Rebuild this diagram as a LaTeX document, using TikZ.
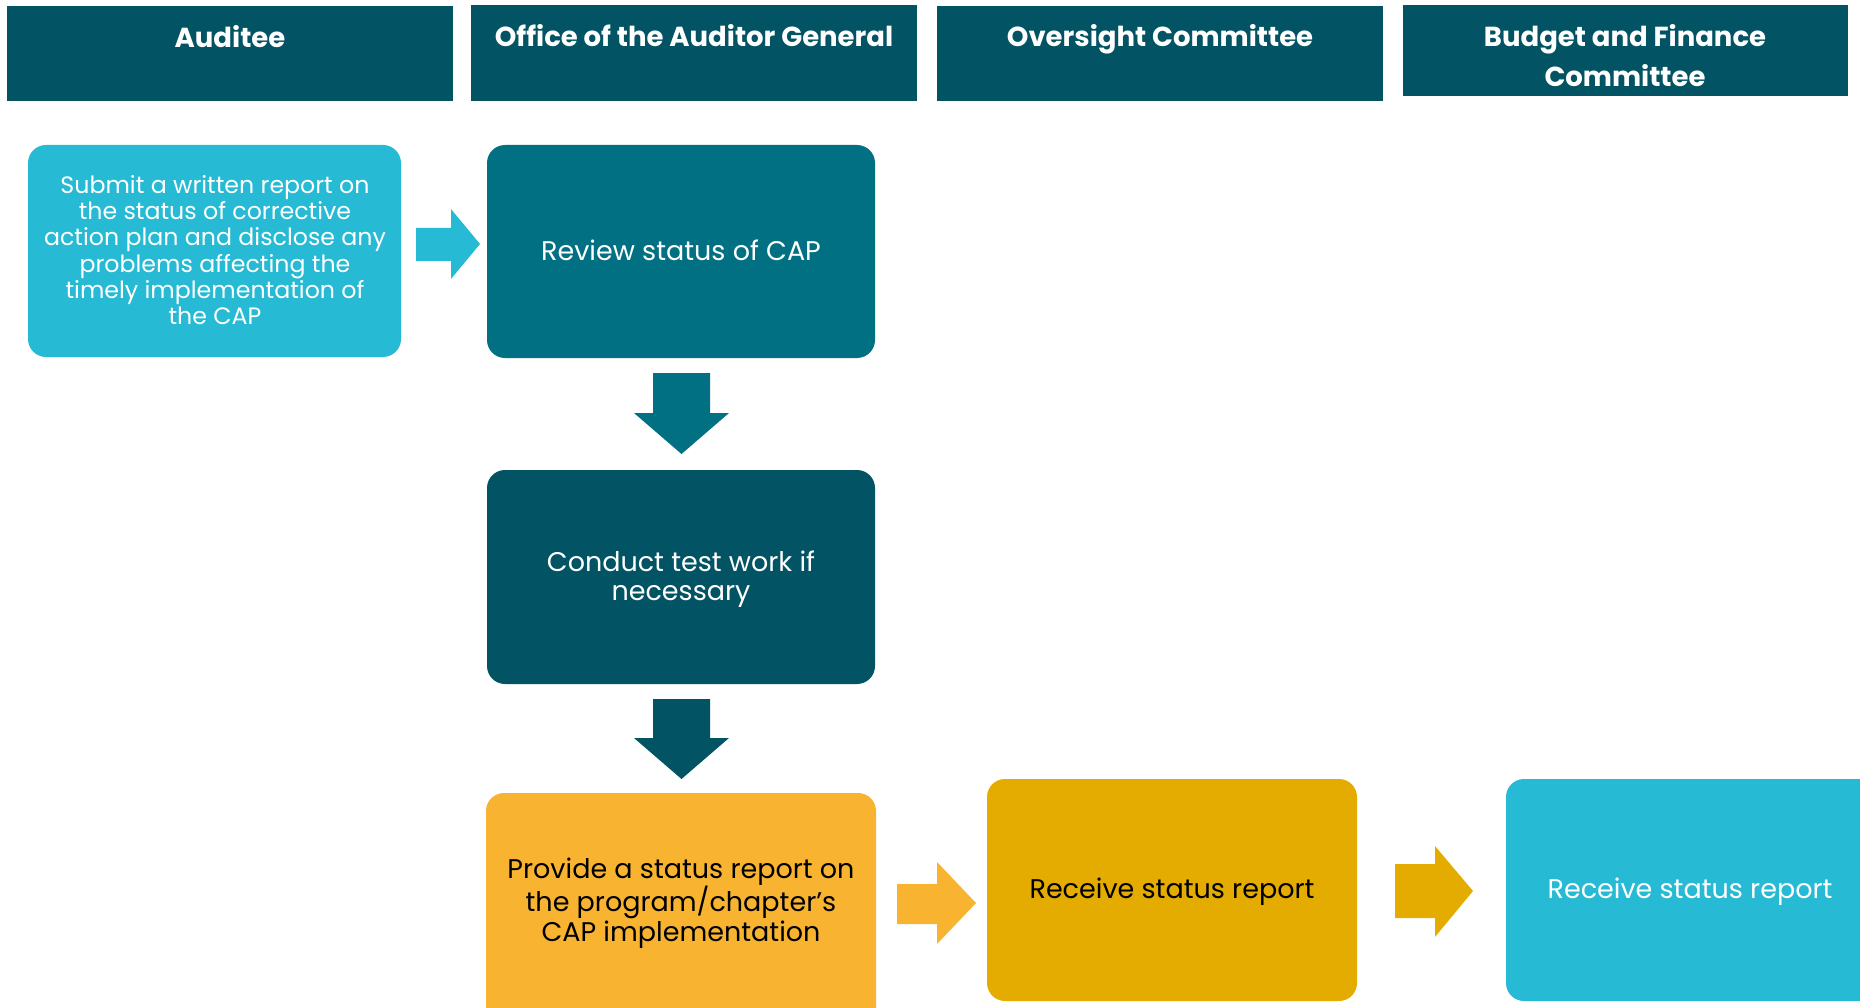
\documentclass[tikz,border=0pt]{standalone}
\usepackage{fontspec}
\setmainfont{Poppins}
\definecolor{hdr}{RGB}{2,83,99}
\definecolor{teal}{RGB}{0,112,130}
\definecolor{cyanb}{RGB}{38,186,212}
\definecolor{orangeb}{RGB}{248,179,48}
\definecolor{goldb}{RGB}{228,172,0}
\tikzset{
  hdrtext/.style={text=white, font=\fontsize{27.5}{40}\selectfont\bfseries, align=center, inner sep=0pt},
  bodytext/.style={font=\fontsize{27}{29.6}\selectfont, align=center, inner sep=0pt},
}
\begin{document}
\begin{tikzpicture}[x=1pt,y=-1pt]
\useasboundingbox (0,0) rectangle (1860,1008);
% headers
\fill[hdr] (7,6) rectangle (453,101);
\fill[hdr] (471,5) rectangle (917,101);
\fill[hdr] (937,6) rectangle (1383,101);
\fill[hdr] (1403,5) rectangle (1848,96);
\node[hdrtext] (h1) at (230,37) {Auditee};
\node[hdrtext] (h2) at (694,36) {Office of the Auditor General};
\node[hdrtext] (h3) at (1160,39) {Oversight Committee};
\node[hdrtext] (h4) at (1625,56) {Budget and Finance\\Committee};
% boxes
\fill[cyanb, rounded corners=18pt] (28,145) rectangle (401,357);
\node[bodytext, text=white, font=\fontsize{23.7}{26.3}\selectfont] (submit) at (215,250) {Submit a written report on\\the status of corrective\\action plan and disclose any\\problems affecting the\\timely implementation of\\the CAP};
\fill[teal, rounded corners=18pt] (487,145) rectangle (875,358);
\node[bodytext, text=white] (review) at (681,250) {Review status of CAP};
\fill[hdr, rounded corners=18pt] (487,470) rectangle (875,684);
\node[bodytext, text=white] (conduct) at (681,579) {Conduct test work if\\necessary};
\fill[orangeb, rounded corners=18pt] (486,793) rectangle (876,1030);
\node[bodytext, text=black] (provide) at (681,903) {Provide a status report on\\the program/chapter's\\CAP implementation};
\fill[goldb, rounded corners=18pt] (987,779) rectangle (1357,1001);
\node[bodytext, text=black] (recv1) at (1172,892) {Receive status report};
\fill[cyanb, rounded corners=18pt] (1506,779) rectangle (1890,1001);
\node[bodytext, text=white] (recv2) at (1690,892) {Receive status report};
% arrows
\fill[cyanb] (416,228) -- (451,228) -- (451,209) -- (480,244) -- (451,279) -- (451,261) -- (416,261) -- cycle;
\fill[teal] (653,373) -- (710,373) -- (710,413) -- (729,413) -- (681.5,454) -- (634,413) -- (653,413) -- cycle;
\fill[hdr] (653,699) -- (710,699) -- (710,738) -- (729,738) -- (681.5,779) -- (634,738) -- (653,738) -- cycle;
\fill[orangeb] (897,884) -- (937,884) -- (937,862) -- (976,903) -- (937,944) -- (937,924) -- (897,924) -- cycle;
\fill[goldb] (1395,864) -- (1435,864) -- (1435,846) -- (1473,891) -- (1435,937) -- (1435,918) -- (1395,918) -- cycle;
\end{tikzpicture}
\end{document}
